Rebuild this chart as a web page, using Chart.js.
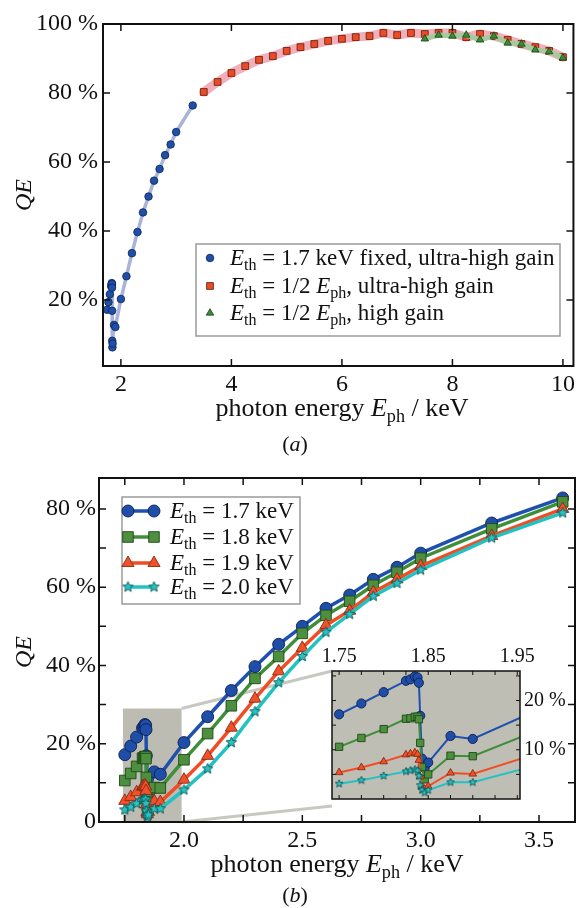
<!DOCTYPE html>
<html>
<head>
<meta charset="utf-8">
<script src="https://cdn.jsdelivr.net/npm/chart.js@4.4.1/dist/chart.umd.min.js"></script>
<style>
  html, body { margin: 0; padding: 0; background: #fff; }
  #page { position: relative; width: 579px; height: 908px; overflow: hidden; }
  canvas { position: absolute; }
  #qeA { left: 0; top: 0; }
  #qeB { left: 0; top: 460px; }
  #qeInset { left: 300px; top: 645px; }
</style>
</head>
<body>
<div id="page">
  <canvas id="qeA" width="579" height="460"></canvas>
  <canvas id="qeB" width="579" height="448"></canvas>
  <canvas id="qeInset" width="279" height="170"></canvas>
</div>
<script>
const SERIF = '"Liberation Serif", "Times New Roman", serif';

// ---- data -------------------------------------------------------------
// threshold scan around the Si K edge, photon energy in keV, QE in %
const scanEnergy = [1.75, 1.775, 1.80, 1.825, 1.83, 1.835, 1.838, 1.8395, 1.841, 1.843, 1.846, 1.85,
  1.875, 1.90, 2.0, 2.1, 2.2, 2.3, 2.4, 2.5, 2.6, 2.7, 2.8, 2.9, 3.0, 3.3, 3.6];
const qe17 = [17.2, 19.4, 21.7, 24.0, 24.3, 24.9, 24.7, 23.6, 16.9, 8.2, 6.3, 7.4,
  12.8, 12.2, 20.3, 26.9, 33.6, 39.7, 45.4, 50.0, 54.6, 58.0, 62.0, 65.1, 68.7, 76.4, 82.8];
const qe18 = [10.6, 12.4, 14.2, 16.3, 16.4, 16.7, 16.7, 16.2, 11.4, 6.5, 4.0, 5.0,
  8.8, 8.7, 15.9, 22.6, 29.7, 36.7, 42.3, 48.2, 52.8, 56.4, 60.5, 63.8, 67.4, 74.9, 81.8];
const qe19 = [5.4, 6.4, 7.6, 9.0, 9.2, 9.4, 9.1, 7.9, 4.5, 2.4, 2.0, 2.6,
  5.3, 5.1, 10.8, 16.9, 24.1, 31.5, 38.5, 44.5, 50.3, 54.0, 58.7, 62.0, 65.4, 73.1, 80.0];
const qe20 = [3.1, 3.8, 4.7, 5.6, 5.8, 6.0, 5.8, 4.7, 2.8, 1.8, 1.3, 1.8,
  3.4, 3.4, 8.2, 13.6, 20.3, 28.2, 35.6, 42.3, 48.5, 53.1, 57.7, 61.0, 64.4, 72.6, 79.0];

// fixed 1.7 keV threshold run stops at 3.3 keV
const fixedEnergy = scanEnergy.slice(0, -1);
const qeFixed = qe17.slice(0, -1);

// threshold at half the photon energy
const halfEnergy = [3.5, 3.75, 4.0, 4.25, 4.5, 4.75, 5.0, 5.25, 5.5, 5.75, 6.0, 6.25, 6.5, 6.75,
  7.0, 7.25, 7.5, 7.75, 8.0, 8.25, 8.5, 8.75, 9.0, 9.25, 9.5, 9.75, 10.0];
const qeHalfUhg = [80.3, 83.2, 85.8, 87.8, 89.6, 90.7, 92.2, 93.3, 94.2, 95.1, 95.7, 96.2, 96.5, 97.4,
  96.8, 97.4, 97.1, 97.4, 97.4, 96.2, 97.1, 96.5, 95.4, 94.2, 93.3, 92.2, 90.4];
const hgEnergy = [7.5, 7.75, 8.0, 8.25, 8.5, 8.75, 9.0, 9.25, 9.5, 9.75, 10.0];
const qeHalfHg = [95.7, 96.8, 96.5, 96.8, 95.4, 96.5, 94.5, 94.2, 92.5, 92.0, 90.2];

// ticks
const aXTicks = [2, 4, 6, 8, 10];
const aXLabels = ['2', '4', '6', '8', '10'];
const aYTicks = [20, 40, 60, 80, 100];
const aYLabels = ['20 %', '40 %', '60 %', '80 %', '100 %'];
const bXTicks = [1.75, 2.0, 2.25, 2.5, 2.75, 3.0, 3.25, 3.5];
const bXLabels = ['', '2.0', '', '2.5', '', '3.0', '', '3.5'];
const bYTicks = [0, 10, 20, 30, 40, 50, 60, 70, 80];
const bYLabels = ['0', '', '20 %', '', '40 %', '', '60 %', '', '80 %'];
const zXTicks = [1.75, 1.775, 1.8, 1.825, 1.85, 1.875, 1.9, 1.925, 1.95];
const zXLabels = ['1.75', '', '', '', '1.85', '', '', '', '1.95'];
const zYTicks = [5, 10, 15, 20, 25];
const zYLabels = ['', '10 %', '', '20 %', ''];

// zoomed window shown in the inset
const zoomX = [1.742, 1.99];
const zoomY = [0, 29];

// ---- helpers ------------------------------------------------------------
const pts = (xs, ys) => xs.map((x, i) => ({ x, y: ys[i] }));

function starSprite(r, fill, edge) {
  const c = document.createElement('canvas');
  const s = Math.ceil(r * 2 + 4);
  c.width = c.height = s;
  const g = c.getContext('2d');
  g.beginPath();
  for (let k = 0; k < 10; k++) {
    const rr = k % 2 ? r * 0.45 : r;
    const ang = -Math.PI / 2 + k * Math.PI / 5;
    g.lineTo(s / 2 + rr * Math.cos(ang), s / 2 + rr * Math.sin(ang));
  }
  g.closePath();
  g.fillStyle = fill;
  g.fill();
  g.lineWidth = 0.9;
  g.strokeStyle = edge;
  g.stroke();
  return c;
}

// text with italic and subscript pieces: parts = [[text, ''|'i'|'s'], ...]
function drawRich(ctx, { parts, x, y, size, align = 'center', rotate = 0 }) {
  const fontFor = st => (st === 'i' ? 'italic ' : '') + (st === 's' ? size * 0.7 : size) + 'px ' + SERIF;
  let width = 0;
  for (const [t, st] of parts) { ctx.font = fontFor(st); width += ctx.measureText(t).width; }
  ctx.save();
  ctx.translate(x, y);
  ctx.rotate(rotate);
  ctx.fillStyle = '#111';
  ctx.textAlign = 'left';
  ctx.textBaseline = 'alphabetic';
  let cx = align === 'center' ? -width / 2 : align === 'right' ? -width : 0;
  for (const [t, st] of parts) {
    ctx.font = fontFor(st);
    ctx.fillText(t, cx, st === 's' ? size * 0.22 : 0);
    cx += ctx.measureText(t).width;
  }
  ctx.restore();
}

function axis(min, max, ticks, labels, o) {
  return {
    type: 'linear', min, max, position: o.position,
    afterBuildTicks: s => { s.ticks = ticks.map(value => ({ value })); },
    afterFit: s => { if (s.isHorizontal()) s.height = o.size; else s.width = o.size; },
    grid: { display: false, drawTicks: false },
    border: { display: false },
    ticks: {
      autoSkip: false, maxRotation: 0, padding: o.pad, color: '#111',
      font: { family: SERIF, size: o.font },
      callback: (v, i) => labels[i],
    },
  };
}

// box with inward ticks on all four sides
const frame = {
  id: 'frame',
  afterDraw(chart, args, o) {
    const { ctx, chartArea: a, scales: { x, y } } = chart;
    ctx.save();
    ctx.strokeStyle = '#111';
    ctx.lineWidth = o.tickWidth;
    ctx.beginPath();
    x.ticks.forEach(t => {
      const px = x.getPixelForValue(t.value);
      ctx.moveTo(px, a.bottom); ctx.lineTo(px, a.bottom - o.len);
      ctx.moveTo(px, a.top); ctx.lineTo(px, a.top + o.len);
    });
    y.ticks.forEach(t => {
      const py = y.getPixelForValue(t.value);
      ctx.moveTo(a.left, py); ctx.lineTo(a.left + o.len, py);
      ctx.moveTo(a.right, py); ctx.lineTo(a.right - o.len, py);
    });
    ctx.stroke();
    ctx.lineWidth = o.width;
    ctx.strokeRect(a.left, a.top, a.right - a.left, a.bottom - a.top);
    ctx.restore();
  },
};

const notes = {
  id: 'notes',
  afterDraw(chart, args, o) {
    (o.items || []).forEach(it => drawRich(chart.ctx, it));
  },
};

const key = {
  id: 'key',
  afterDraw(chart, args, o) {
    if (!o.rows) return;
    const ctx = chart.ctx;
    ctx.save();
    ctx.fillStyle = '#fff';
    ctx.strokeStyle = '#9a9a9a';
    ctx.lineWidth = 1.5;
    ctx.fillRect(...o.box);
    ctx.strokeRect(...o.box);
    o.rows.forEach(row => {
      const ds = chart.data.datasets[row.ds];
      if (o.sample) {
        ctx.strokeStyle = ds.borderColor;
        ctx.lineWidth = ds.borderWidth;
        ctx.beginPath();
        ctx.moveTo(o.marks[0], row.y);
        ctx.lineTo(o.marks[o.marks.length - 1], row.y);
        ctx.stroke();
      }
      o.marks.forEach(mx => {
        ctx.fillStyle = ds.pointBackgroundColor;
        ctx.strokeStyle = ds.pointBorderColor;
        ctx.lineWidth = ds.pointBorderWidth;
        Chart.helpers.drawPoint(ctx, {
          pointStyle: ds.pointStyle, radius: ds.pointRadius, rotation: 0, borderWidth: ds.pointBorderWidth,
        }, mx, row.y);
      });
      drawRich(ctx, { parts: row.parts, x: o.textX, y: row.y + o.size * 0.32, size: o.size, align: 'left' });
    });
    ctx.restore();
  },
};

// gray window over the edge region, joined to the inset
const zoomWindow = {
  id: 'zoomWindow',
  beforeDatasetsDraw(chart, args, o) {
    if (!o.to) return;
    const { ctx, scales: { x, y } } = chart;
    const l = x.getPixelForValue(zoomX[0]), r = x.getPixelForValue(zoomX[1]);
    const t = y.getPixelForValue(zoomY[1]), b = y.getPixelForValue(zoomY[0]);
    ctx.save();
    ctx.fillStyle = o.fill;
    ctx.fillRect(l, t, r - l, b - t);
    ctx.strokeStyle = o.line;
    ctx.lineWidth = 3;
    ctx.beginPath();
    ctx.moveTo(r, t); ctx.lineTo(o.to.left, o.to.top);
    ctx.moveTo(r, b); ctx.lineTo(o.to.left, o.to.bottom);
    ctx.stroke();
    ctx.restore();
  },
};

const areaFill = {
  id: 'areaFill',
  beforeDraw(chart, args, o) {
    if (!o.color) return;
    const { ctx, chartArea: a } = chart;
    ctx.save();
    ctx.fillStyle = o.color;
    ctx.fillRect(a.left, a.top, a.right - a.left, a.bottom - a.top);
    ctx.restore();
  },
};

Chart.register(frame, notes, key, zoomWindow, areaFill);

const E_TH = [['E', 'i'], ['th', 's']];
const E_PH = [['E', 'i'], ['ph', 's']];

// ---- panel (a) ------------------------------------------------------------
new Chart(document.getElementById('qeA'), {
  type: 'line',
  data: {
    datasets: [
      {
        data: pts(fixedEnergy, qeFixed), order: 2,
        borderColor: '#aab3d8', borderWidth: 3.5, borderCapStyle: 'round', borderJoinStyle: 'round',
        pointStyle: 'circle', pointRadius: 3.8,
        pointBackgroundColor: '#1f4fa8', pointBorderColor: '#0c2458', pointBorderWidth: 0.8,
      },
      {
        data: pts(halfEnergy, qeHalfUhg), order: 1,
        borderColor: '#f1b0b9', borderWidth: 9, borderCapStyle: 'round', borderJoinStyle: 'round',
        pointStyle: 'rect', pointRadius: 4.8,
        pointBackgroundColor: '#ec4b26', pointBorderColor: '#5e1c0c', pointBorderWidth: 0.8,
      },
      {
        data: pts(hgEnergy, qeHalfHg), order: 0,
        borderColor: '#a3cb9b', borderWidth: 5, borderCapStyle: 'round', borderJoinStyle: 'round',
        pointStyle: 'triangle', pointRadius: 4.3,
        pointBackgroundColor: '#3e8a3a', pointBorderColor: '#173f15', pointBorderWidth: 0.8,
      },
    ],
  },
  options: {
    responsive: false, animation: false, devicePixelRatio: 1,
    layout: { autoPadding: false, padding: { top: 24, right: 3, left: 0, bottom: 0 } },
    scales: {
      x: axis(1.676, 10.19, aXTicks, aXLabels, { position: 'bottom', size: 94, pad: 4, font: 24 }),
      y: axis(0.9, 100, aYTicks, aYLabels, { position: 'left', size: 103, pad: 5, font: 24 }),
    },
    plugins: {
      legend: { display: false },
      tooltip: { enabled: false },
      frame: { len: 7, width: 2, tickWidth: 1.5 },
      key: {
        box: [196, 244, 364, 92], marks: [210], textX: 230, size: 23, sample: false,
        rows: [
          { ds: 0, y: 258, parts: [...E_TH, [' = 1.7 keV fixed, ultra-high gain', '']] },
          { ds: 1, y: 286, parts: [...E_TH, [' = 1/2 ', ''], ...E_PH, [', ultra-high gain', '']] },
          { ds: 2, y: 313, parts: [...E_TH, [' = 1/2 ', ''], ...E_PH, [', high gain', '']] },
        ],
      },
      notes: {
        items: [
          { parts: [['QE', 'i']], x: 31, y: 195, size: 24, rotate: -Math.PI / 2 },
          { parts: [['photon energy ', ''], ...E_PH, [' / keV', '']], x: 342, y: 416, size: 26 },
          { parts: [['(', ''], ['a', 'i'], [')', '']], x: 295, y: 451, size: 22 },
        ],
      },
    },
  },
});

// ---- panel (b) ------------------------------------------------------------
const scanStyles = [
  { values: qe17, line: '#1e50b0', fill: '#1f4ea8', edge: '#0a2050', style: 'circle', r: 6, rz: 4.6 },
  { values: qe18, line: '#3f8f3a', fill: '#4d8f3f', edge: '#1e4a18', style: 'rect', r: 7.5, rz: 5.2 },
  { values: qe19, line: '#f04d25', fill: '#f0502a', edge: '#8a2a12', style: 'triangle', r: 7, rz: 4.4 },
  { values: qe20, line: '#22c2c2', fill: '#2ac2c2', edge: '#0f5656', style: 'star', r: 5.5, rz: 4 },
];

function scanDatasets(inset) {
  return scanStyles.map((s, i) => ({
    data: pts(scanEnergy, s.values),
    order: 3 - i,
    borderColor: s.line,
    borderWidth: inset ? 2 : 3.5,
    pointStyle: s.style === 'star' ? starSprite(inset ? s.rz : s.r, s.fill, s.edge) : s.style,
    pointRadius: inset ? s.rz : s.r,
    pointBackgroundColor: s.fill,
    pointBorderColor: s.edge,
    pointBorderWidth: 0.9,
  }));
}

const B_TOP = 460;
const insetBox = { left: 332, top: 671 - B_TOP, bottom: 806 - B_TOP };

new Chart(document.getElementById('qeB'), {
  type: 'line',
  data: { datasets: scanDatasets(false) },
  options: {
    responsive: false, animation: false, devicePixelRatio: 1,
    layout: { autoPadding: false, padding: { top: 18, right: 4, left: 0, bottom: 0 } },
    scales: {
      x: axis(1.641, 3.652, bXTicks, bXLabels, { position: 'bottom', size: 86, pad: 4, font: 24 }),
      y: axis(0, 87.9, bYTicks, bYLabels, { position: 'left', size: 99, pad: 3, font: 24 }),
    },
    plugins: {
      legend: { display: false },
      tooltip: { enabled: false },
      frame: { len: 7, width: 2, tickWidth: 1.5 },
      zoomWindow: { fill: '#bdbcb3', line: '#c8c8c2', to: insetBox },
      key: {
        box: [122, 37, 178, 107], marks: [128, 154], textX: 170, size: 23, sample: true,
        rows: [
          { ds: 0, y: 51, parts: [...E_TH, [' = 1.7 keV', '']] },
          { ds: 1, y: 77, parts: [...E_TH, [' = 1.8 keV', '']] },
          { ds: 2, y: 103, parts: [...E_TH, [' = 1.9 keV', '']] },
          { ds: 3, y: 127, parts: [...E_TH, [' = 2.0 keV', '']] },
        ],
      },
      notes: {
        items: [
          { parts: [['QE', 'i']], x: 31, y: 192, size: 24, rotate: -Math.PI / 2 },
          { parts: [['photon energy ', ''], ...E_PH, [' / keV', '']], x: 337, y: 412, size: 26 },
          { parts: [['(', ''], ['b', 'i'], [')', '']], x: 295, y: 442, size: 22 },
        ],
      },
    },
  },
});

// ---- inset: edge region of (b) ----------------------------------------------
new Chart(document.getElementById('qeInset'), {
  type: 'line',
  data: { datasets: scanDatasets(true) },
  options: {
    responsive: false, animation: false, devicePixelRatio: 1,
    layout: { autoPadding: false, padding: { top: 0, right: 0, left: 32, bottom: 9 } },
    scales: {
      x: axis(1.742, 1.953, zXTicks, zXLabels, { position: 'top', size: 26, pad: 2, font: 20 }),
      y: axis(0, 26, zYTicks, zYLabels, { position: 'right', size: 59, pad: 4, font: 20 }),
    },
    plugins: {
      legend: { display: false },
      tooltip: { enabled: false },
      areaFill: { color: '#bfbeb5' },
      frame: { len: 4, width: 1.5, tickWidth: 1 },
    },
  },
});
</script>
</body>
</html>
